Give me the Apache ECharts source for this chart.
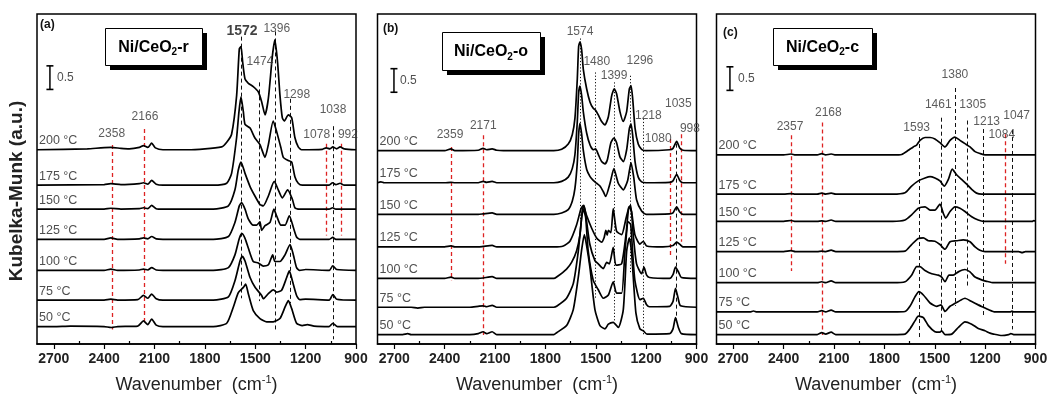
<!DOCTYPE html>
<html><head><meta charset="utf-8">
<script src="https://cdn.jsdelivr.net/npm/echarts@6/dist/echarts.min.js"></script>
<style>html,body{margin:0;padding:0;background:#fff}#c{width:1051px;height:399px}</style>
</head><body><div id="c"></div>
<script>
// ---------- data (wavenumber cm-1, Kubelka-Munk a.u. above each baseline) ----------
const temps = ['200 °C','175 °C','150 °C','125 °C','100 °C','75 °C','50 °C'];
const majorTicks = [900,1200,1500,1800,2100,2400,2700];
const minorTicks = [1050,1350,1650,1950,2250,2550];
const offsetsA = [4.12,3.37,2.86,2.22,1.56,0.93,0.37];
const offsetsB = [4.10,3.42,2.75,2.06,1.39,0.78,0.20];
const offsetsC = [4.01,3.18,2.60,1.96,1.30,0.68,0.20];

// Panel (a) Ni/CeO2-r
const a200 = [[2800,0],[2500,0.02],[2420,0.04],[2360,0.05],[2300,0.03],[2250,0.02],[2190,0.05],[2166,0.09],[2140,0.05],[2117,0.14],[2095,0.04],[2050,0],[1900,0],[1700,0.06],[1670,0.16],[1641,0.33],[1611,1.15],[1595,2.14],[1585,2.19],[1575,1.86],[1561,1.5],[1541,1.41],[1512,1.34],[1482,1.23],[1462,1.02],[1442,0.74],[1422,1.09],[1398,1.99],[1383,2.33],[1367,1.85],[1353,1.16],[1339,0.68],[1327,0.61],[1303,0.74],[1283,0.68],[1264,0.26],[1244,0.06],[1224,0],[1100,0.01],[1078,0.04],[1055,0.02],[1038,0.06],[1015,0.02],[995,0.06],[970,0.02],[900,0]];
const a175 = [[2800,0],[2400,0.01],[2360,0.03],[2300,0.01],[2190,0.03],[2166,0.05],[2140,0.02],[2117,0.1],[2090,0.02],[2050,0],[1750,0],[1670,0.04],[1641,0.25],[1611,1.01],[1597,1.56],[1585,1.87],[1571,1.56],[1561,1.29],[1531,1.21],[1502,1.0],[1472,0.86],[1442,0.59],[1422,0.86],[1393,1.36],[1373,1.14],[1347,0.79],[1333,0.59],[1303,0.52],[1283,0.49],[1264,0.18],[1244,0.04],[1220,0],[1060,0],[1040,0.05],[1020,0.01],[995,0.04],[970,0],[900,0]];
const a150 = [[2800,0],[2400,0],[2360,0.02],[2300,0],[2190,0.01],[2166,0.03],[2140,0.01],[2117,0.08],[2090,0.01],[2050,0],[1750,0],[1660,0.07],[1621,0.41],[1601,0.83],[1585,1.0],[1561,0.76],[1531,0.48],[1502,0.28],[1472,0.1],[1452,0.07],[1422,0.28],[1387,0.59],[1363,0.41],[1339,0.24],[1307,0.41],[1279,0.21],[1264,0.03],[1240,0],[1060,0],[1040,0.03],[1020,0],[900,0]];
const a125 = [[2800,0],[2400,0],[2360,0.03],[2320,0],[2190,0.01],[2166,0.03],[2140,0.01],[2117,0.06],[2090,0.01],[2050,0],[1750,0],[1660,0.06],[1621,0.36],[1595,0.71],[1581,0.78],[1561,0.64],[1541,0.43],[1512,0.3],[1492,0.3],[1472,0.37],[1462,0.19],[1442,0.29],[1412,0.36],[1389,0.64],[1373,0.5],[1347,0.3],[1323,0.3],[1297,0.5],[1273,0.25],[1254,0.05],[1235,0],[1060,0],[1038,0.04],[1020,0],[900,0]];
const a100 = [[2800,0],[2400,0],[2360,0.03],[2320,0],[2190,0.01],[2166,0.03],[2140,0.01],[2117,0.06],[2090,0.01],[2050,0],[1750,0],[1660,0.06],[1621,0.33],[1595,0.68],[1579,0.78],[1561,0.68],[1541,0.47],[1512,0.19],[1482,0.16],[1452,0.09],[1422,0.12],[1396,0.33],[1383,0.19],[1353,0.19],[1323,0.33],[1293,0.55],[1273,0.33],[1254,0.06],[1235,0],[1200,0.02],[1060,0],[1038,0.1],[1015,0.02],[900,0]];
const a75 = [[2800,0],[2400,0],[2360,0.02],[2320,0],[2200,0.01],[2166,0.1],[2140,0.04],[2117,0.13],[2090,0.03],[2050,0],[1750,0],[1660,0.07],[1621,0.41],[1591,0.83],[1577,0.93],[1561,0.83],[1531,0.48],[1502,0.28],[1462,0.1],[1452,0.03],[1422,0.14],[1393,0.22],[1373,0.17],[1343,0.21],[1313,0.48],[1297,0.62],[1279,0.41],[1254,0.1],[1235,0.01],[1200,0.02],[1060,0],[1038,0.12],[1015,0.02],[900,0]];
const a50 = [[2800,0],[2700,0],[2600,0.01],[2400,0],[2358,-0.02],[2320,0],[2200,0.01],[2166,0.12],[2140,0.04],[2117,0.16],[2090,0.03],[2050,0],[1750,0],[1670,0.07],[1631,0.41],[1601,0.72],[1571,0.83],[1557,0.9],[1541,0.69],[1512,0.34],[1472,0.17],[1432,0.1],[1393,0.1],[1353,0.17],[1323,0.41],[1303,0.55],[1283,0.38],[1254,0.07],[1220,0.02],[1190,0.04],[1150,0.01],[1060,0],[1038,0.07],[1010,0],[900,0]];

// Panel (b) Ni/CeO2-o
const b200 = [[2800,0],[2400,0],[2362,0.04],[2340,0],[2200,0.01],[2171,0.05],[2150,0.02],[2117,0.04],[2090,0.01],[2050,0],[1750,0],[1703,0.03],[1664,0.14],[1640,0.34],[1624,0.69],[1610,1.52],[1602,2.21],[1594,2.31],[1584,2.14],[1574,1.72],[1554,1.31],[1534,1.03],[1515,0.9],[1501,0.86],[1485,0.76],[1465,0.62],[1445,0.55],[1425,0.72],[1405,1.17],[1390,1.31],[1376,1.21],[1356,0.83],[1336,0.62],[1316,0.83],[1300,1.31],[1290,1.38],[1280,1.1],[1266,0.48],[1247,0.14],[1227,0.03],[1200,0],[1060,0.02],[1040,0.05],[1018,0.2],[1000,0.06],[980,0.01],[900,0]];
const b175 = [[2800,0],[2780,0.02],[2760,0],[2400,0],[2362,0.01],[2340,0],[2200,0],[2171,0.03],[2150,0.01],[2117,0.03],[2090,0],[1750,0],[1703,0.03],[1664,0.12],[1640,0.3],[1624,0.6],[1610,1.3],[1602,1.9],[1594,2.05],[1584,1.85],[1574,1.5],[1554,1.05],[1534,0.8],[1515,0.7],[1501,0.72],[1485,0.6],[1465,0.45],[1445,0.4],[1430,0.5],[1410,0.85],[1392,0.95],[1376,0.85],[1356,0.55],[1336,0.45],[1316,0.7],[1300,1.15],[1290,1.25],[1280,1.0],[1266,0.45],[1247,0.12],[1227,0.02],[1200,0],[1060,0.01],[1040,0.04],[1018,0.18],[1000,0.05],[980,0],[900,0]];
const b150 = [[2800,0],[2400,0],[2200,0],[2171,0.01],[2117,0.03],[2090,0],[1750,0],[1703,0.03],[1664,0.1],[1640,0.28],[1624,0.55],[1610,1.1],[1602,1.7],[1594,1.93],[1584,1.7],[1574,1.35],[1554,0.95],[1534,0.8],[1515,0.72],[1495,0.66],[1475,0.6],[1455,0.48],[1441,0.38],[1415,0.66],[1392,0.97],[1366,0.66],[1336,0.52],[1310,0.72],[1290,1.1],[1274,0.79],[1257,0.31],[1227,0.07],[1200,0],[1060,0.01],[1040,0.03],[1018,0.16],[1000,0.05],[980,0],[900,0]];
const b125 = [[2800,0],[2400,0],[2362,0.02],[2340,0],[2200,0],[2171,0.01],[2117,0.03],[2090,0],[1750,0],[1693,0.02],[1654,0.12],[1614,0.47],[1588,0.81],[1574,0.88],[1555,0.67],[1525,0.4],[1495,0.19],[1465,0.1],[1450,0.2],[1440,0.35],[1432,0.25],[1425,0.35],[1410,0.3],[1396,0.81],[1376,0.33],[1346,0.26],[1320,0.6],[1300,0.85],[1287,0.75],[1267,0.26],[1237,0.06],[1217,0.12],[1197,0.02],[1100,0],[1040,0.03],[1018,0.1],[995,0.04],[980,0],[900,0]];
const b100 = [[2800,0],[2400,0],[2362,0.03],[2340,0],[2200,0],[2171,0.01],[2117,0.04],[2090,0],[1750,0],[1733,0.03],[1674,0.2],[1644,0.34],[1614,0.59],[1594,0.93],[1580,1.45],[1570,1.55],[1558,1.3],[1535,0.72],[1505,0.38],[1485,0.31],[1455,0.21],[1435,0.34],[1419,0.31],[1396,0.66],[1380,0.28],[1346,0.31],[1320,0.93],[1304,1.5],[1292,1.55],[1277,0.93],[1257,0.31],[1227,0.1],[1213,0.24],[1197,0.07],[1180,0.02],[1060,0],[1040,0.08],[1025,0.24],[1005,0.12],[990,0.02],[900,0]];
const b75 = [[2800,0],[2600,0],[2560,-0.02],[2520,0],[2400,0],[2250,0],[2200,0.02],[2171,0.03],[2150,0.01],[2117,0.04],[2090,0],[1750,0],[1733,0.02],[1674,0.19],[1634,0.5],[1604,1.19],[1584,1.9],[1574,2.08],[1560,1.9],[1545,1.19],[1515,0.57],[1485,0.37],[1455,0.19],[1425,0.26],[1396,0.54],[1376,0.3],[1346,0.3],[1326,1.19],[1306,1.81],[1292,1.75],[1281,1.2],[1267,0.57],[1237,0.16],[1217,0.19],[1197,0.05],[1180,0.01],[1060,0.02],[1040,0.12],[1025,0.4],[1010,0.2],[995,0.03],[900,0]];
const b50 = [[2800,0],[2650,0],[2620,0.02],[2600,0],[2250,0],[2200,0.02],[2171,0.06],[2150,0.02],[2117,0.06],[2090,0],[1750,0],[1733,0.04],[1674,0.19],[1634,0.53],[1604,1.22],[1584,1.8],[1568,2.12],[1555,1.9],[1535,1.43],[1505,0.53],[1475,0.19],[1445,0.12],[1425,0.22],[1396,0.26],[1366,0.15],[1336,0.53],[1316,1.77],[1300,2.05],[1287,1.75],[1261,0.46],[1237,0.12],[1217,0.08],[1195,0.01],[1060,0.02],[1040,0.12],[1025,0.36],[1008,0.15],[990,0.02],[900,0]];

// Panel (c) Ni/CeO2-c
const c200 = [[2800,0],[2400,0],[2356,0.02],[2330,0],[2200,0],[2173,0.03],[2150,0],[2117,0.02],[2090,0],[1750,0],[1697,0.01],[1657,0.1],[1628,0.17],[1608,0.21],[1588,0.31],[1558,0.37],[1528,0.37],[1499,0.34],[1469,0.26],[1439,0.17],[1409,0.31],[1380,0.38],[1350,0.31],[1320,0.24],[1290,0.17],[1260,0.07],[1231,0.03],[1200,0],[900,0]];
const c175 = [[2800,0],[2400,0],[2356,0.01],[2330,0],[2200,0],[2173,0.02],[2150,0],[2117,0.02],[2090,0],[1750,0],[1677,0.03],[1638,0.17],[1598,0.28],[1558,0.34],[1528,0.37],[1499,0.34],[1469,0.28],[1443,0.17],[1419,0.31],[1396,0.53],[1370,0.41],[1340,0.31],[1310,0.21],[1280,0.1],[1251,0.02],[1220,0],[900,0]];
const c150 = [[2800,0],[2400,0],[2356,0.02],[2330,0],[2200,0],[2173,0.01],[2150,0],[2117,0.03],[2090,0],[1750,0],[1677,0.03],[1638,0.14],[1598,0.28],[1558,0.31],[1528,0.24],[1499,0.24],[1469,0.37],[1449,0.17],[1435,0.07],[1409,0.21],[1380,0.31],[1350,0.28],[1320,0.21],[1280,0.1],[1241,0.03],[1210,0],[920,0],[910,0.02],[900,0]];
const c125 = [[2800,0],[2400,0],[2356,0.02],[2330,0],[2200,0],[2173,0.01],[2150,0],[2117,0.03],[2090,0],[1750,0],[1677,0.01],[1638,0.15],[1598,0.28],[1568,0.29],[1538,0.23],[1499,0.22],[1469,0.15],[1439,0.05],[1409,0.21],[1370,0.23],[1330,0.25],[1290,0.21],[1260,0.1],[1231,0.03],[1200,0],[1000,0],[980,-0.02],[960,0],[900,0]];
const c100 = [[2800,0],[2400,0],[2200,0],[2173,0.02],[2150,0],[2117,0.04],[2090,0],[1750,0],[1677,0.02],[1638,0.16],[1608,0.34],[1588,0.34],[1558,0.26],[1518,0.19],[1479,0.16],[1459,0.12],[1439,0.02],[1415,0.16],[1390,0.16],[1360,0.23],[1320,0.28],[1290,0.23],[1260,0.12],[1221,0.06],[1191,0.03],[1150,0],[900,0]];
const c75 = [[2800,0],[2600,0],[2580,0.02],[2560,0],[2200,0],[2173,0.03],[2150,0],[2117,0.04],[2090,0],[1750,0],[1677,0.01],[1648,0.12],[1618,0.32],[1594,0.43],[1568,0.36],[1528,0.19],[1489,0.12],[1463,0.15],[1439,0.01],[1409,0.12],[1360,0.22],[1320,0.29],[1280,0.22],[1241,0.15],[1211,0.1],[1181,0.05],[1141,0],[1050,0],[1040,0.02],[1030,0],[900,0]];
const c50 = [[2800,0],[2200,0],[2173,0.04],[2150,0.01],[2117,0.05],[2090,0],[1750,0],[1677,0.01],[1648,0.12],[1618,0.29],[1598,0.39],[1568,0.36],[1538,0.19],[1499,0.06],[1469,0.05],[1459,0.08],[1439,0],[1399,0.01],[1360,0.15],[1320,0.27],[1280,0.22],[1241,0.13],[1201,0.08],[1171,0.03],[1150,0.01],[1100,-0.02],[1060,0],[1047,0.02],[1030,0],[900,0]];

// Band marker lines: [wavenumber, top a.u., bottom a.u., kind]  (k dashed black, r dashed red, d dotted black)
const bandsA = [[2352,4.22,0.31,'r'],[2163,4.56,0.46,'r'],[1585,6.52,0.97,'k'],[1476,5.55,0.91,'k'],[1383,6.63,0.25,'k'],[1293,5.2,0.87,'k'],[1079,4.25,2.3,'r'],[1033,4.62,0.1,'k'],[986,4.25,2.3,'r']];
const bandsB = [[2362,4.18,1.35,'r'],[2170,4.43,0.19,'r'],[1594,6.48,2.63,'d'],[1501,5.76,0.95,'d'],[1392,5.55,0.46,'d'],[1292,5.69,1.49,'d'],[1217,4.78,0.19,'d'],[1058,4.35,1.86,'r'],[1018,4.25,0.46,'k'],[989,4.45,2.17,'r']];
const bandsC = [[2356,4.43,1.55,'r'],[2173,4.7,0.19,'r'],[1592,4.39,0.1,'k'],[1459,4.8,0.25,'k'],[1380,5.43,0.81,'k'],[1304,4.74,1.22,'k'],[1211,4.56,0.6,'k'],[1082,4.45,1.7,'r'],[1038,4.54,0.31,'k']];

// Band label texts and where they sit (wavenumber, a.u.)
const bandTextA = ['1572','1396','1474','1298','1038','1078','992','2166','2358'];
const bandTextPosA = [[1579,6.63],[1372,6.68],[1472,5.98],[1253,5.29],[1037,4.98],[1134,4.45],[948,4.45],[2157,4.82],[2355,4.46]];
const bandTextB = ['1574','1480','1296','1399','1035','1218','998','1080','2171','2359'];
const bandTextPosB = [[1594,6.62],[1494,5.98],[1237,6.0],[1391,5.69],[1008,5.09],[1187,4.84],[939,4.56],[1128,4.35],[2170,4.63],[2368,4.45]];
const bandTextC = ['1380','1461','1305','2168','1047','1213','2357','1593','1084'];
const bandTextPosC = [[1380,5.72],[1479,5.08],[1274,5.07],[2134,4.91],[1012,4.84],[1191,4.72],[2362,4.62],[1608,4.58],[1101,4.45]];

const titles = ['Ni/CeO|2|-r','Ni/CeO|2|-o','Ni/CeO|2|-c'];
const letters = ['(a)','(b)','(c)'];
const scaleBar = 0.5;

// ---------- layout ----------
const FONT = "'Liberation Sans', Arial, sans-serif";
const panels = [
  {left:37,   curves:[a200,a175,a150,a125,a100,a75,a50], offsets:offsetsA, bands:bandsA, txt:bandTextA, txtPos:bandTextPosA, bar:[2723,5.40], barTxt:[2681,5.65]},
  {left:377.5,curves:[b200,b175,b150,b125,b100,b75,b50], offsets:offsetsB, bands:bandsB, txt:bandTextB, txtPos:bandTextPosB, bar:[2702,5.34], barTxt:[2666,5.59]},
  {left:716.5,curves:[c200,c175,c150,c125,c100,c75,c50], offsets:offsetsC, bands:bandsC, txt:bandTextC, txtPos:bandTextPosC, bar:[2720,5.38], barTxt:[2672,5.63]}
];
const boxes = [[105,28,97,37],[442,32,98,38],[773,28,99,37]];
const letterPos = [[40,25],[383,29],[723,33]];
const bandStyles = {
  r:{color:'#dd2222', width:1.3, type:[4,3], opacity:1},
  k:{color:'#111', width:1, type:[4,3]},
  d:{color:'#111', width:1, type:[1.2,2]}
};

const grid=[], xAxis=[], yAxis=[], series=[];
panels.forEach((p,i)=>{
  grid.push({left:p.left, top:14, width:319, height:338, show:true, borderColor:'#000', borderWidth:1.5, backgroundColor:'transparent'});
  xAxis.push({type:'value', gridIndex:i, min:900, max:2800, interval:300, inverse:true,
    axisLine:{show:true, onZero:false, lineStyle:{color:'#000', width:1.5}},
    axisTick:{show:true, inside:false, length:5, customValues:majorTicks, lineStyle:{color:'#000', width:1.2}},
    axisLabel:{customValues:majorTicks, formatter:v=>String(v), margin:8, fontSize:14, fontWeight:'bold', color:'#222', fontFamily:FONT},
    splitLine:{show:false},
    name:'{a|Wavenumber  (cm}{s|-1}{a|)}', nameLocation:'middle', nameGap:30,
    nameTextStyle:{fontFamily:FONT, color:'#222', fontSize:18, rich:{a:{fontSize:18, color:'#222', fontFamily:FONT, lineHeight:22}, s:{fontSize:11, color:'#222', fontFamily:FONT, verticalAlign:'top', lineHeight:11}}}
  });
  xAxis.push({type:'value', gridIndex:i, min:900, max:2800, interval:150, inverse:true,
    axisLine:{show:false}, axisLabel:{show:false}, splitLine:{show:false},
    axisTick:{show:true, inside:false, length:3, customValues:minorTicks, lineStyle:{color:'#000', width:1.2}}});
  yAxis.push({type:'value', gridIndex:i, min:0, max:7, show:false});

  const xi = 2*i;
  // band marker lines, one carrier series per style (drawn under the spectra)
  Object.keys(bandStyles).forEach(kind=>{
    const list = p.bands.filter(b=>b[3]===kind);
    if(!list.length) return;
    series.push({type:'line', xAxisIndex:xi, yAxisIndex:i, data:[], silent:true, z:2,
      markLine:{silent:true, symbol:['none','none'], label:{show:false}, animation:false, z:2,
        lineStyle:bandStyles[kind], emphasis:{disabled:true},
        data:list.map(b=>[{coord:[b[0],b[1]], lineStyle:bandStyles[kind]},{coord:[b[0],b[2]], lineStyle:bandStyles[kind]}])}});
  });
  p.curves.forEach((cv,k)=>{
    series.push({type:'line', xAxisIndex:xi, yAxisIndex:i, showSymbol:false, smooth:0.2, silent:true,
      lineStyle:{color:'#000', width:1.7}, data: cv.map(d=>[d[0], d[1]+p.offsets[k]]), z:3});
  });
  // temperature labels
  series.push({type:'scatter', xAxisIndex:xi, yAxisIndex:i, symbolSize:0, silent:true, z:5,
    data: temps.map((t,k)=>({value:[2788, p.offsets[k]+0.19], name:t})),
    label:{show:true, position:[0,0], align:'left', verticalAlign:'middle', formatter:'{b}', fontSize:12.5, color:'#222', fontFamily:FONT}});
  // band labels
  series.push({type:'scatter', xAxisIndex:xi, yAxisIndex:i, symbolSize:0, silent:true, z:5,
    data: p.txt.map((t,k)=>({value:p.txtPos[k], name:t,
      label: (i===0 && k===0) ? {fontSize:14, fontWeight:'bold', color:'#111'} : {}})),
    label:{show:true, position:[0,0], align:'center', verticalAlign:'middle', formatter:'{b}', fontSize:12, color:'#333', fontFamily:FONT}});
  // scale bar
  series.push({type:'line', xAxisIndex:xi, yAxisIndex:i, silent:true, symbol:'rect', symbolSize:[7,1.6], showSymbol:true,
    lineStyle:{color:'#000', width:1.5}, itemStyle:{color:'#000'},
    data:[[p.bar[0], p.bar[1]],[p.bar[0], p.bar[1]+scaleBar]]});
  series.push({type:'scatter', xAxisIndex:xi, yAxisIndex:i, symbolSize:0, silent:true,
    data:[{value:p.barTxt, name:String(scaleBar)}],
    label:{show:true, position:[0,0], align:'left', verticalAlign:'middle', formatter:'{b}', fontSize:12, color:'#222', fontFamily:FONT}});
});

const graphic = [];
boxes.forEach((b,i)=>{
  const parts = titles[i].split('|');
  graphic.push({type:'rect', left:b[0]+5, top:b[1]+5, shape:{width:b[2], height:b[3]}, style:{fill:'#000'}, z:10});
  graphic.push({type:'rect', left:b[0], top:b[1], shape:{width:b[2], height:b[3]}, style:{fill:'#fff', stroke:'#000', lineWidth:1}, z:11});
  graphic.push({type:'text', x:b[0]+b[2]/2, y:b[1]+b[3]/2+1, z:12,
    style:{text:'{m|'+parts[0]+'}{s|'+parts[1]+'}{m|'+parts[2]+'}', align:'center', verticalAlign:'middle',
      rich:{m:{fontSize:16, fontWeight:'bold', fontFamily:FONT, fill:'#000', lineHeight:20},
            s:{fontSize:10, fontWeight:'bold', fontFamily:FONT, fill:'#000', verticalAlign:'bottom', lineHeight:10}}}});
  graphic.push({type:'text', x:letterPos[i][0], y:letterPos[i][1], z:12,
    style:{text:letters[i], align:'left', verticalAlign:'middle', font:'bold 12px '+FONT, fill:'#111'}});
});
// y-axis title
graphic.push({type:'text', x:17, y:191, rotation:Math.PI/2, z:12,
  style:{text:'Kubelka-Munk (a.u.)', align:'center', verticalAlign:'middle', font:'bold 19px '+FONT, fill:'#222'}});

const chart = echarts.init(document.getElementById('c'), null, {renderer:'canvas'});
chart.setOption({animation:false, backgroundColor:'#fff', grid, xAxis, yAxis, series, graphic});
</script></body></html>
